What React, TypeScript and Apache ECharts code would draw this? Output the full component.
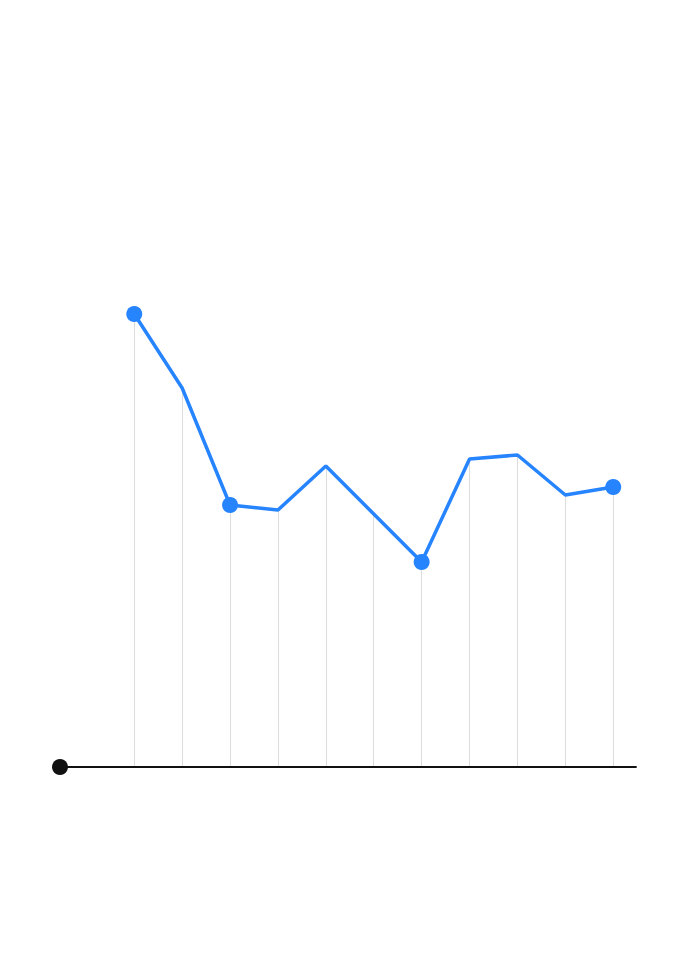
import React, { useEffect, useRef } from "react";
import * as echarts from "echarts";

const xPositions = [0, 1, 2, 3, 4, 5, 6, 7, 8, 9, 10];
const values = [90.6, 75.8, 52.4, 51.4, 60.2, 50.6, 41.0, 61.6, 62.4, 54.4, 56.0];
const markedIndices = [0, 2, 6, 10];

export default function App() {
  const ref = useRef<HTMLDivElement>(null);
  useEffect(() => {
    if (!ref.current) return;
    const chart = echarts.init(ref.current, undefined, { renderer: "svg" });
    const lineData = xPositions.map((x, i) => {
      const marked = markedIndices.includes(i);
      return {
        value: [x, values[i]],
        symbol: marked ? "circle" : "none",
        symbolSize: marked ? 16 : 0,
      };
    });
    const dropLines = xPositions.map((x, i) => [
      { coord: [x, 0] },
      { coord: [x, values[i]] },
    ]);
    chart.setOption({
      animation: false,
      grid: { left: 60, right: 64, top: 267, bottom: 203, containLabel: false },
      xAxis: {
        type: "value",
        min: -1.55,
        max: 10.475,
        axisLine: {
          show: true,
          onZero: false,
          symbol: ["circle", "none"],
          symbolSize: [16, 16],
          lineStyle: { color: "#111111", width: 1.8 },
        },
        axisTick: { show: false },
        axisLabel: { show: false },
        splitLine: { show: false },
      },
      yAxis: {
        type: "value",
        min: 0,
        max: 100,
        axisLine: { show: false },
        axisTick: { show: false },
        axisLabel: { show: false },
        splitLine: { show: false },
      },
      series: [
        {
          type: "line",
          data: [],
          z: 0,
          silent: true,
          markLine: {
            silent: true,
            z: 0,
            symbol: ["none", "none"],
            label: { show: false },
            lineStyle: { color: "#dcdcdc", width: 1, type: "solid" },
            data: dropLines,
          },
        },
        {
          type: "line",
          z: 5,
          data: lineData,
          lineStyle: { color: "#2684FF", width: 3.5 },
          itemStyle: { color: "#2684FF" },
          showAllSymbol: true,
        },
      ],
    });
    return () => chart.dispose();
  }, []);
  return <div ref={ref} style={{ width: 700, height: 970, margin: -8 }} />;
}
